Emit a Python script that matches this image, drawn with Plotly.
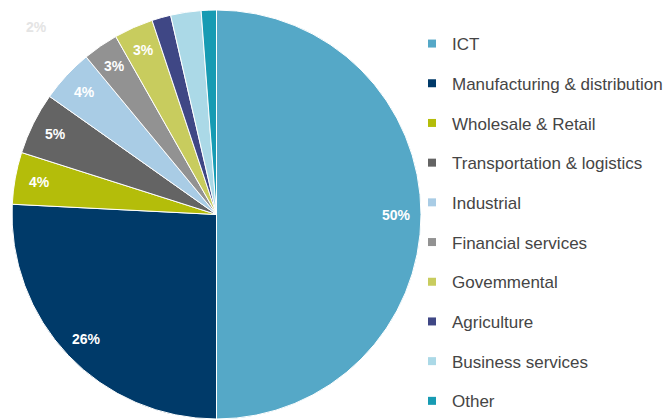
import math
import plotly.graph_objects as go

# Share of customers by sector (%)
sectors = ["ICT", "Manufacturing & distribution", "Wholesale & Retail",
           "Transportation & logistics", "Industrial", "Financial services",
           "Govemmental", "Agriculture", "Business services", "Other"]
shares = [50.0, 25.8, 4.1, 4.9, 4.2, 2.8, 3.1, 1.5, 2.4, 1.2]
colors = ["#55a8c7", "#003a69", "#b4bd0a", "#646464", "#a9cce5",
          "#929292", "#c8cc5e", "#3f4785", "#abd9e7", "#179bb3"]
# sectors whose share is printed on the slice
labelled = [True, True, True, True, True, True, True, False, False, False]

W, H = 670, 419
# pie placement in pixels
cx, cy, r = 216.5, 214.5, 204.5

fig = go.Figure()
fig.add_trace(go.Pie(
    labels=sectors, values=shares, sort=False, direction="clockwise",
    rotation=0, marker=dict(colors=colors, line=dict(color="white", width=1)),
    textinfo="none", hoverinfo="label+percent", showlegend=False,
    domain=dict(x=[(cx - r) / W, (cx + r) / W], y=[1 - (cy + r) / H, 1 - (cy - r) / H]),
))

# dummy traces give the legend its small square swatches
for i, (name, col) in enumerate(zip(sectors, colors)):
    fig.add_trace(go.Scatter(
        x=[None], y=[None], mode="markers", name=name, legendgroup=f"g{i}",
        marker=dict(symbol="square", size=8, color=col), showlegend=True,
    ))

# percentage labels placed along each slice's bisector
total = sum(shares)
cum = 0.0
annotations = []
for name, v, show in zip(sectors, shares, labelled):
    mid = 2 * math.pi * (cum + v / 2) / total
    cum += v
    if not show:
        continue
    rl = 0.88 * r
    px = cx + rl * math.sin(mid)
    py = cy - rl * math.cos(mid)
    annotations.append(dict(
        x=px / W, y=1 - py / H, xref="paper", yref="paper",
        xanchor="center", yanchor="middle",
        text=f"<b>{round(v):d}%</b>", showarrow=False,
        font=dict(family="Liberation Sans, Arial", size=14, color="white"),
    ))

# faint outside label of Business services
annotations.append(dict(
    x=36 / W, y=1 - 27 / H, xref="paper", yref="paper",
    xanchor="center", yanchor="middle",
    text=f"<b>{round(shares[8]):d}%</b>", showarrow=False,
    font=dict(family="Liberation Sans, Arial", size=14, color="#e4e4e4"),
))

fig.update_layout(
    width=W, height=H, margin=dict(l=0, r=0, t=0, b=0),
    paper_bgcolor="white", plot_bgcolor="white",
    xaxis=dict(visible=False), yaxis=dict(visible=False),
    annotations=annotations,
    legend=dict(
        x=412 / W, y=1 - 41 / H, xanchor="left", yanchor="top",
        font=dict(family="Liberation Sans, Arial", size=17, color="#454545"),
        tracegroupgap=14.6, itemwidth=30, bgcolor="rgba(0,0,0,0)",
    ),
)

fig.write_html("out.html")
